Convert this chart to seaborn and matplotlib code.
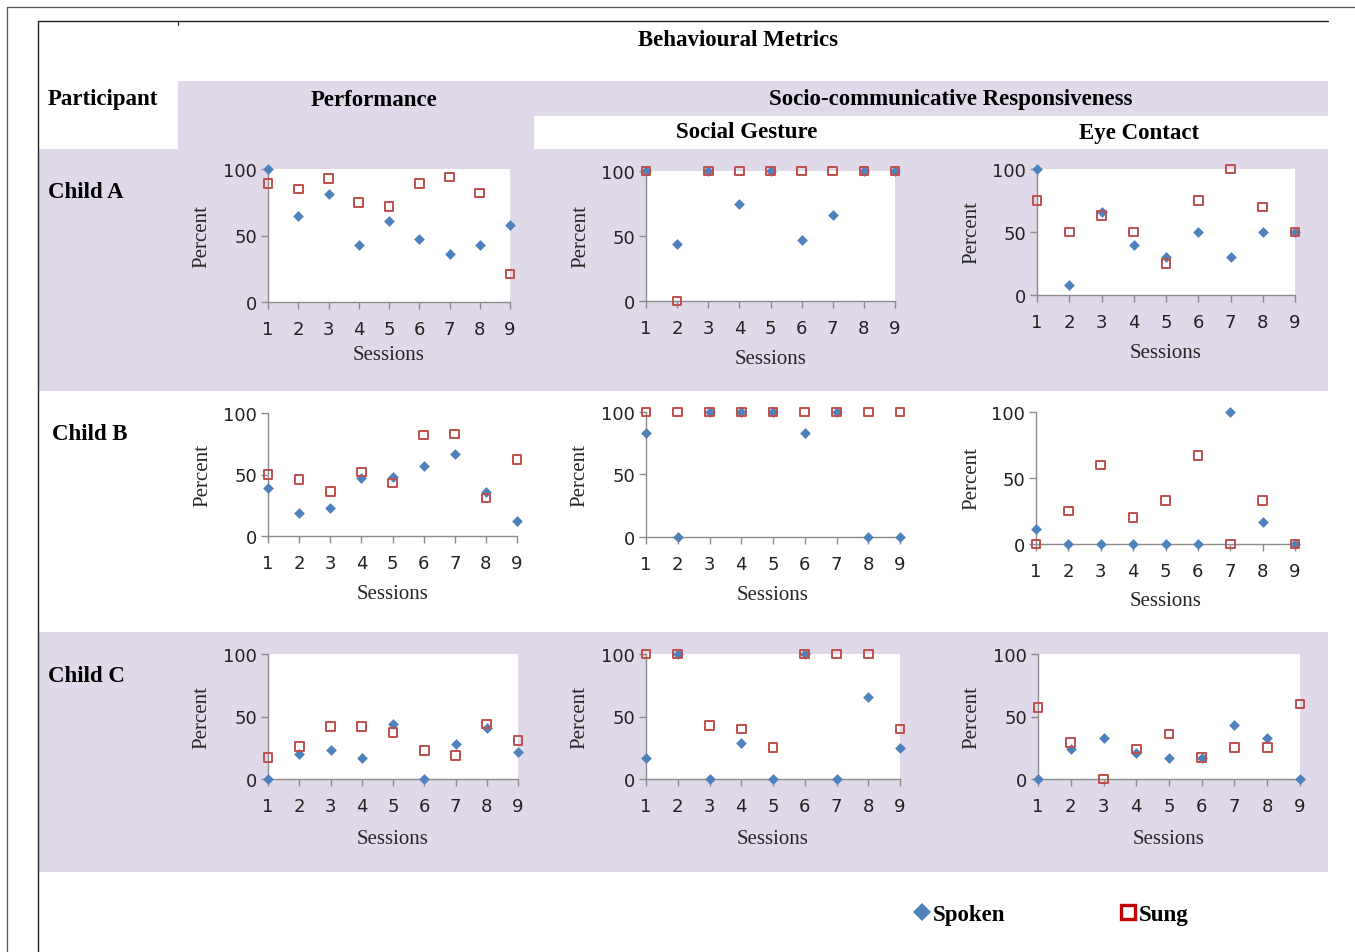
import matplotlib
matplotlib.use("Agg")
import matplotlib.pyplot as plt
import seaborn as sns
from matplotlib.patches import Rectangle
from matplotlib.lines import Line2D

# ---------------- data ----------------
sessions = [1, 2, 3, 4, 5, 6, 7, 8, 9]

a_perf_spoken = [100, 65, 81, 43, 61, 47, 36, 43, 58]
a_perf_sung = [89, 85, 93, 75, 72, 89, 94, 82, 21]
a_gest_spoken = [100, 44, 100, 75, 100, 47, 66, 100, 100]
a_gest_sung = [100, 0, 100, 100, 100, 100, 100, 100, 100]
a_eye_spoken = [100, 8, 66, 40, 30, 50, 30, 50, 50]
a_eye_sung = [75, 50, 63, 50, 25, 75, 100, 70, 50]

b_perf_spoken = [39, 19, 23, 47, 48, 57, 67, 36, 12]
b_perf_sung = [50, 46, 36, 52, 43, 82, 83, 31, 62]
b_gest_spoken = [83, 0, 100, 100, 100, 83, 100, 0, 0]
b_gest_sung = [100, 100, 100, 100, 100, 100, 100, 100, 100]
b_eye_spoken = [11, 0, 0, 0, 0, 0, 100, 17, 0]
b_eye_sung = [0, 25, 60, 20, 33, 67, 0, 33, 0]

c_perf_spoken = [0, 20, 23, 17, 44, 0, 28, 41, 22]
c_perf_sung = [17, 26, 42, 42, 37, 23, 19, 44, 31]
c_gest_spoken = [17, 100, 0, 29, 0, 100, 0, 66, 25]
c_gest_sung = [100, 100, 43, 40, 25, 100, 100, 100, 40]
c_eye_spoken = [0, 24, 33, 21, 17, 17, 43, 33, 0]
c_eye_sung = [57, 29, 0, 24, 36, 17, 25, 25, 60]

y_ticks = [0, 50, 100]
series_names = ["Spoken", "Sung"]
participants = ["Child A", "Child B", "Child C"]

# ---------------- layout (pixels) ----------------
W, H = 1355, 953
PURPLE = "#DFD9EA"
BLUE = "#4F81BD"
RED = "#C0504D"
AXC = "#8C8C8C"

sns.set_style("ticks")
plt.rcParams["font.family"] = ["DejaVu Sans"]
SERIF = "Liberation Serif"

fig = plt.figure(figsize=(W / 100, H / 100), dpi=100)
fig.patch.set_facecolor("white")


def fx(x):
    return x / W


def fy(y):
    return 1 - y / H


def rect(x0, y0, x1, y1, color):
    fig.add_artist(Rectangle((fx(x0), fy(y1)), (x1 - x0) / W, (y1 - y0) / H,
                             transform=fig.transFigure, facecolor=color,
                             edgecolor="none", zorder=-5))


def hline(x0, x1, y, color="#444444", lw=1.0):
    fig.add_artist(Line2D([fx(x0), fx(x1)], [fy(y), fy(y)], transform=fig.transFigure,
                          color=color, lw=lw, zorder=-4))


def vline(x, y0, y1, color="#444444", lw=1.0):
    fig.add_artist(Line2D([fx(x), fx(x)], [fy(y0), fy(y1)], transform=fig.transFigure,
                          color=color, lw=lw, zorder=-4))


# background bands
rect(178, 82, 1328, 117, PURPLE)
rect(178, 117, 534, 150, PURPLE)
rect(38, 150, 1328, 392, PURPLE)
rect(38, 633, 1328, 873, PURPLE)

# frame lines
hline(7, W, 8, "#555555", 0.9)
vline(7, 8, H, "#555555", 0.9)
hline(38, 1328, 22, "#222222", 1.0)
vline(38, 22, H, "#222222", 1.0)
vline(178, 22, 26, "#222222", 0.8)

# header texts
DY = 3
hdr = dict(fontfamily=SERIF, fontweight="bold", fontsize=16.5, color="black")
fig.text(fx(738), fy(37 + DY), "Behavioural Metrics", ha="center", va="center", **hdr)
fig.text(fx(48), fy(97 + DY), "Participant", ha="left", va="center", **hdr)
fig.text(fx(374), fy(97 + DY), "Performance", ha="center", va="center", **hdr)
fig.text(fx(951), fy(97 + DY), "Socio-communicative Responsiveness", ha="center", va="center", **hdr)
fig.text(fx(747), fy(130 + DY), "Social Gesture", ha="center", va="center", **hdr)
fig.text(fx(1139), fy(130 + DY), "Eye Contact", ha="center", va="center", **hdr)
for name, (px, py) in zip(participants, [(48, 190), (52, 432), (48, 674)]):
    fig.text(fx(px), fy(py + DY), name, ha="left", va="center", **hdr)

# panels: (spoken, sung, left, right, y0px, y100px, percent_x, sessions_y)
panels = [
    (a_perf_spoken, a_perf_sung, 268, 510, 303, 170, 202, 355),
    (a_gest_spoken, a_gest_sung, 646, 895, 302, 172, 581, 360),
    (a_eye_spoken, a_eye_sung, 1037, 1295, 296, 170, 972, 353),
    (b_perf_spoken, b_perf_sung, 268, 517, 537, 414, 203, 595),
    (b_gest_spoken, b_gest_sung, 646, 900, 538, 413, 580, 595),
    (b_eye_spoken, b_eye_sung, 1036, 1295, 545, 413, 972, 601),
    (c_perf_spoken, c_perf_sung, 268, 518, 780, 655, 202, 840),
    (c_gest_spoken, c_gest_sung, 646, 900, 780, 655, 580, 840),
    (c_eye_spoken, c_eye_sung, 1038, 1300, 780, 655, 972, 840),
]

for spoken, sung, l, r, yb, yt, pxl, sy in panels:
    ax = fig.add_axes([fx(l), fy(yb), (r - l) / W, (yb - yt) / H])
    ax.set_facecolor("white")
    sns.scatterplot(x=sessions, y=spoken, marker="D", s=30, color=BLUE,
                    edgecolor=BLUE, linewidth=0, ax=ax, clip_on=False,
                    zorder=3, legend=False)
    sns.scatterplot(x=sessions, y=sung, marker="s", s=38, facecolor="none",
                    edgecolor=RED, linewidth=1.4, ax=ax, clip_on=False,
                    zorder=4, legend=False)
    ax.collections[-1].set_facecolor("none")
    ax.set_xlim(1, 9)
    ax.set_ylim(0, 100)
    ax.set_xticks(sessions)
    ax.set_yticks(y_ticks)
    for s in ["top", "right"]:
        ax.spines[s].set_visible(False)
    for s in ["left", "bottom"]:
        ax.spines[s].set_color(AXC)
        ax.spines[s].set_linewidth(1.0)
    ax.tick_params(axis="both", direction="out", length=5, width=1.0, color=AXC,
                   labelsize=13, labelcolor="#222222")
    ax.tick_params(axis="x", pad=8)
    ax.tick_params(axis="y", pad=3)
    ax.set_xlabel("Sessions", fontfamily=SERIF, fontsize=15)
    ax.set_ylabel("Percent", fontfamily=SERIF, fontsize=15)
    ax.xaxis.set_label_coords(0.5, (yb - sy) / (yb - yt))
    ax.xaxis.label.set_va("center")
    ax.yaxis.set_label_coords((pxl - l) / (r - l), 0.5)
    ax.yaxis.label.set_va("center")
    ax.yaxis.label.set_ha("center")

# legend
fig.add_artist(Line2D([fx(922)], [fy(913)], transform=fig.transFigure, marker="D",
                      markersize=9, color=BLUE, markeredgewidth=0, linestyle="none"))
fig.text(fx(933), fy(913 + DY), series_names[0], ha="left", va="center", **hdr)
fig.add_artist(Line2D([fx(1128)], [fy(913)], transform=fig.transFigure, marker="s",
                      markersize=9.5, markerfacecolor="white", markeredgecolor="#C00000",
                      markeredgewidth=2.4, linestyle="none"))
fig.text(fx(1139), fy(913 + DY), series_names[1], ha="left", va="center", **hdr)

fig.savefig("out.png", dpi=100)
